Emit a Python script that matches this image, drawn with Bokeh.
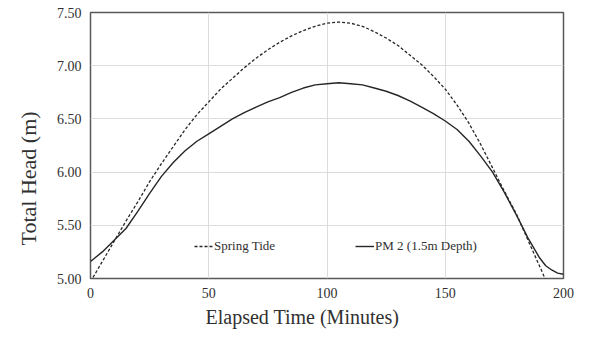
from bokeh.plotting import figure
from bokeh.models import (FixedTicker, NumeralTickFormatter, Legend, LegendItem,
                          Title, Range1d)
from bokeh.embed import file_html
from bokeh.resources import INLINE

# ---- data ----
spring_minutes = [0, 5, 10, 15, 20, 25, 30, 35, 40, 45, 50, 55, 60, 65, 70, 75,
                  80, 85, 90, 95, 100, 105, 110, 115, 120, 125, 130, 135, 140,
                  145, 150, 155, 160, 165, 170, 175, 180, 185, 190, 193]
spring_tide = [4.97, 5.16, 5.35, 5.54, 5.72, 5.91, 6.08, 6.24, 6.40, 6.54,
               6.66, 6.78, 6.88, 6.98, 7.07, 7.15, 7.22, 7.28, 7.33, 7.37,
               7.40, 7.41, 7.40, 7.37, 7.32, 7.26, 7.19, 7.10, 7.01, 6.90,
               6.78, 6.63, 6.46, 6.26, 6.04, 5.82, 5.61, 5.36, 5.11, 4.96]

pm2_minutes = [0, 5, 10, 15, 20, 25, 30, 35, 40, 45, 50, 55, 60, 65, 70, 75,
               80, 85, 90, 95, 100, 105, 110, 115, 120, 125, 130, 135, 140,
               145, 150, 155, 160, 165, 170, 175, 180, 185, 190, 192.5, 195,
               197.5, 200]
pm2 = [5.16, 5.25, 5.36, 5.47, 5.63, 5.80, 5.96, 6.09, 6.20, 6.29, 6.36,
       6.43, 6.50, 6.56, 6.61, 6.66, 6.70, 6.75, 6.79, 6.82, 6.83, 6.84,
       6.83, 6.82, 6.79, 6.76, 6.72, 6.67, 6.61, 6.55, 6.48, 6.40, 6.29,
       6.15, 6.00, 5.81, 5.60, 5.38, 5.19, 5.12, 5.08, 5.05, 5.04]

x_ticks = [0, 50, 100, 150, 200]
y_ticks = [5.0, 5.5, 6.0, 6.5, 7.0, 7.5]

x_title = "Elapsed Time (Minutes)"
y_title = "Total Head (m)"
series_names = ["Spring Tide", "PM 2 (1.5m Depth)"]

FONT = "Liberation Serif"
TXT = "#303030"

p = figure(width=574, height=331, output_backend="svg", toolbar_location=None,
           x_range=Range1d(0, 200), y_range=Range1d(5.0, 7.5),
           min_border_left=90, min_border_right=11, min_border_top=12,
           min_border_bottom=50)
p.background_fill_color = "white"
p.border_fill_color = "white"
p.outline_line_color = "#595959"
p.outline_line_width = 1.5

for ax in (p.xaxis[0], p.yaxis[0]):
    ax.axis_line_color = None
    ax.major_tick_line_color = None
    ax.minor_tick_line_color = None
    ax.major_tick_out = 0
    ax.major_tick_in = 0
    ax.major_label_text_font = FONT
    ax.major_label_text_font_size = "14px"
    ax.major_label_text_color = TXT
    ax.major_label_standoff = 9

p.xaxis[0].ticker = FixedTicker(ticks=x_ticks)
p.yaxis[0].ticker = FixedTicker(ticks=y_ticks)
p.yaxis[0].formatter = NumeralTickFormatter(format="0.00")

p.xgrid[0].ticker = FixedTicker(ticks=x_ticks)
p.ygrid[0].ticker = FixedTicker(ticks=y_ticks)
p.xgrid.grid_line_color = "#dcdcdc"
p.ygrid.grid_line_color = "#dcdcdc"
p.xgrid.grid_line_width = 1
p.ygrid.grid_line_width = 1

r_spring = p.line(spring_minutes, spring_tide, line_color="#262626",
                  line_width=1.3, line_dash="3 2")
r_pm2 = p.line(pm2_minutes, pm2, line_color="#262626", line_width=1.4)

legend = Legend(items=[LegendItem(label=series_names[0], renderers=[r_spring]),
                       LegendItem(label=series_names[1], renderers=[r_pm2])],
                orientation="horizontal", location=(104, 24),
                spacing=80, padding=0, margin=0, glyph_width=19,
                glyph_height=14, label_standoff=1,
                label_text_font=FONT, label_text_font_size="13px",
                label_text_color=TXT, border_line_color=None,
                background_fill_alpha=0)
p.add_layout(legend, "center")

xt = Title(text=x_title, align="left", offset=115, text_font=FONT,
           text_font_size="20px", text_color=TXT, text_font_style="normal",
           standoff=7)
p.add_layout(xt, "below")
yt = Title(text=y_title, align="left", offset=33, text_font=FONT,
           text_font_size="22px", text_color=TXT, text_font_style="normal",
           standoff=26)
p.add_layout(yt, "left")

open("out.html", "w").write(file_html(p, INLINE))
